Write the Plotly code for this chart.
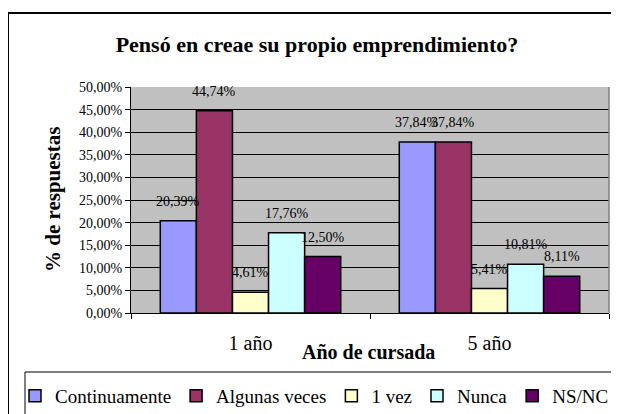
import plotly.graph_objects as go

categories = ["1 año", "5 año"]
series_names = ["Continuamente", "Algunas veces", "1 vez", "Nunca", "NS/NC"]
continuamente = [20.39, 37.84]
algunas_veces = [44.74, 37.84]
una_vez = [4.61, 5.41]
nunca = [17.76, 10.81]
ns_nc = [12.50, 8.11]
y_ticks = [0, 5, 10, 15, 20, 25, 30, 35, 40, 45, 50]
y_tick_labels = [f"{v:.2f}".replace(".", ",") + "%" for v in y_ticks]

series_values = [continuamente, algunas_veces, una_vez, nunca, ns_nc]
colors = ["#9999FF", "#993366", "#FFFFCC", "#CCFFFF", "#660066"]

FONT = "Liberation Serif, Times New Roman, serif"
OFF = 8  # page body margin
W, H = 619 - OFF, 414 - OFF
L, T = 123, 79
R = W - 601
B = H - 305
pw, ph = W - L - R, H - T - B
BARGAP = 0.245

def px_x(p):
    return (p - OFF - L) / pw

def px_y(p):
    return (H - B - (p - OFF)) / ph

fig = go.Figure()
for name, vals, col in zip(series_names, series_values, colors):
    fig.add_trace(go.Bar(
        x=categories, y=vals, name=name,
        marker=dict(color=col, line=dict(color="#000000", width=1.5)),
    ))

n = len(series_names)
bw = (1 - BARGAP) / n
annotations = []
for i, vals in enumerate(series_values):
    for ci, v in enumerate(vals):
        annotations.append(dict(
            x=ci + (i - (n - 1) / 2) * bw, y=v, xref="x", yref="y",
            text=f"{v:.2f}".replace(".", ",") + "%",
            showarrow=False, yanchor="bottom", yshift=10,
            font=dict(family=FONT, size=14, color="#000000"),
        ))

annotations.append(dict(
    x=px_x(368), y=px_y(352), xref="paper", yref="paper",
    text="<b>Año de cursada</b>", showarrow=False,
    xanchor="center", yanchor="middle",
    font=dict(family=FONT, size=20, color="#000000"),
))
annotations.append(dict(
    x=px_x(53), y=0.5, xref="paper", yref="paper",
    text="<b>% de respuestas</b>", showarrow=False, textangle=-90,
    xanchor="center", yanchor="middle",
    font=dict(family=FONT, size=21, color="#000000"),
))

far_r, far_b = 3, -2
shapes = [
    # outer chart frame (left and top edges; the rest runs off the page)
    dict(type="line", xref="paper", yref="paper",
         x0=px_x(8), y0=far_b, x1=px_x(8), y1=px_y(13),
         line=dict(color="#000000", width=2), layer="above"),
    dict(type="line", xref="paper", yref="paper",
         x0=px_x(8), y0=px_y(13), x1=far_r, y1=px_y(13),
         line=dict(color="#000000", width=2), layer="above"),
    # legend box
    dict(type="line", xref="paper", yref="paper",
         x0=px_x(25), y0=far_b, x1=px_x(25), y1=px_y(372),
         line=dict(color="#000000", width=1), layer="above"),
    dict(type="line", xref="paper", yref="paper",
         x0=px_x(25), y0=px_y(372), x1=far_r, y1=px_y(372),
         line=dict(color="#000000", width=1), layer="above"),
    # plot-area right border
    dict(type="line", xref="paper", yref="paper",
         x0=1, y0=0, x1=1, y1=1,
         line=dict(color="#808080", width=1.5), layer="above"),
]

fig.update_layout(
    width=W, height=H,
    margin=dict(l=L, r=R, t=T, b=B, autoexpand=False),
    paper_bgcolor="#FFFFFF",
    plot_bgcolor="#C0C0C0",
    separators=",.",
    barmode="group",
    bargap=BARGAP,
    bargroupgap=0,
    font=dict(family=FONT, color="#000000"),
    title=dict(
        text="<b>Pensó en creae su propio emprendimiento?</b>",
        x=(317 - OFF) / W, xanchor="center", xref="container",
        y=1 - (44 - OFF) / H, yanchor="middle", yref="container",
        font=dict(family=FONT, size=22, color="#000000"),
    ),
    xaxis=dict(
        type="category",
        showline=True, linecolor="#000000", linewidth=1,
        ticks="outside", tickson="boundaries", ticklen=5, tickcolor="#000000",
        tickfont=dict(family=FONT, size=20, color="#000000"),
        ticklabelstandoff=12,
        showgrid=False, zeroline=False,
    ),
    yaxis=dict(
        range=[0, 50], tickvals=y_ticks, ticktext=y_tick_labels,
        showline=True, linecolor="#000000", linewidth=1,
        ticks="outside", ticklen=5, tickcolor="#000000",
        tickfont=dict(family=FONT, size=14, color="#000000"),
        showgrid=True, gridcolor="#000000", gridwidth=1,
        zeroline=False,
    ),
    legend=dict(
        orientation="h", x=px_x(15), xanchor="left",
        y=px_y(377), yanchor="top",
        font=dict(family=FONT, size=19, color="#000000"),
        bgcolor="rgba(0,0,0,0)", borderwidth=0,
    ),
    annotations=annotations,
    shapes=shapes,
)

fig.write_html("out.html")
